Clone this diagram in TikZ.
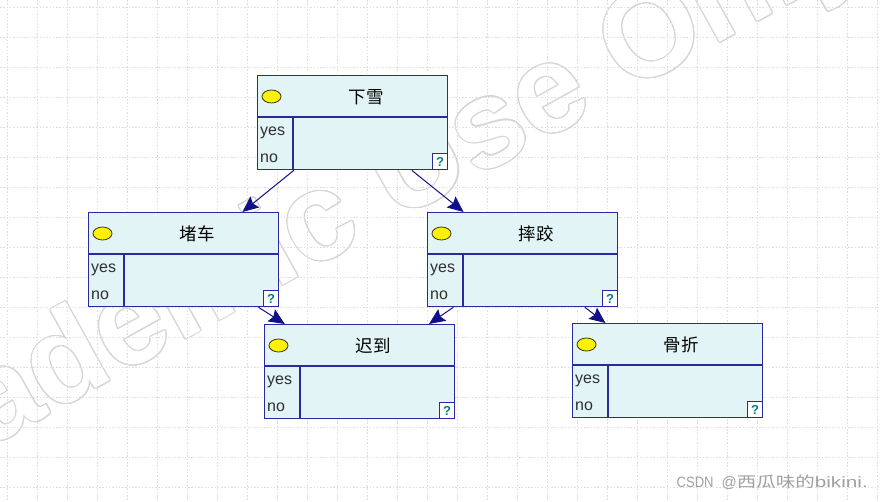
\documentclass[tikz,border=0pt]{standalone}
\usepackage{fontspec}
\setmainfont{Liberation Sans}
\newfontfamily\cjkfont{Noto Sans CJK SC}
\usepackage{contour}
\contourlength{1.1pt}
\usetikzlibrary{arrows.meta,shapes.geometric}
\definecolor{boxfill}{HTML}{E2F4F5}
\definecolor{boxline}{HTML}{2A2A9C}
\definecolor{arrowcol}{HTML}{10108A}
\definecolor{gridcol}{HTML}{DEDEDE}
\definecolor{qcol}{HTML}{008080}
\definecolor{wmgray}{HTML}{D6D6D6}
\definecolor{bulbfill}{HTML}{FFF200}
\definecolor{bulbline}{HTML}{3A3A10}
\definecolor{rowcol}{HTML}{303030}
\definecolor{csdncol}{HTML}{A0A0A0}
\tikzset{
  gridline/.style={draw=gridcol, line width=0.8pt, dash pattern=on 1.5pt off 1.8pt},
  cptbox/.style={draw=boxline, fill=boxfill, line width=1.3pt, minimum width=190pt, minimum height=94pt, inner sep=0pt, anchor=north west},
  divline/.style={draw=boxline, line width=1.3pt},
  qbox/.style={draw=boxline, fill=white, line width=1.3pt, minimum width=15pt, minimum height=16pt, inner sep=0pt, font=\fontsize{13}{13}\selectfont\bfseries, text=qcol, anchor=south east},
  bulb/.style={ellipse, draw=bulbline, fill=bulbfill, line width=0.8pt, minimum width=19pt, minimum height=13pt, inner sep=0pt},
  titletext/.style={font=\fontsize{17.5}{17.5}\selectfont\cjkfont, text=black, inner sep=0pt},
  rowtext/.style={font=\fontsize{16}{16}\selectfont, text=rowcol, inner sep=0pt, anchor=base west},
  conn/.style={draw=arrowcol, line width=1pt, -{Stealth[length=16pt,width=14pt,inset=2.5pt]}},
}
\newcommand{\cptbox}[4]{%
  \node[cptbox] (#1) at (#2,#3) {};
  \draw[divline] ([yshift=-42pt]#1.north west) -- ([yshift=-42pt]#1.north east);
  \draw[divline] ([xshift=36pt,yshift=-42pt]#1.north west) -- ([xshift=36pt]#1.south west);
  \node[qbox] (#1-q) at (#1.south east) {?};
  \node[bulb] (#1-b) at ([xshift=14.5pt,yshift=-21.5pt]#1.north west) {};
  \node[titletext] (#1-t) at ([xshift=109pt,yshift=-22pt]#1.north west) {#4};
  \node[rowtext] (#1-y) at ([xshift=3pt,yshift=-60.5pt]#1.north west) {yes};
  \node[rowtext] (#1-n) at ([xshift=3pt,yshift=-87.5pt]#1.north west) {no};
}
\begin{document}
\begin{tikzpicture}[x=1pt,y=-1pt]
\useasboundingbox (0,0) rectangle (881,501);
\fill[white] (0,0) rectangle (881,501);
% watermark
\node[rotate=29, anchor=base west, inner sep=0pt, font=\fontsize{125}{125}\selectfont\bfseries] (wmk) at (-150,525) {\contour{wmgray}{\textcolor{white}{Academic Use Only}}};
% grid
\foreach \gx in {7,37,...,877} {\draw[gridline] (\gx,0) -- (\gx,501);}
\foreach \gy in {7,37,...,497} {\draw[gridline] (0,\gy) -- (881,\gy);}
% boxes
\cptbox{xx}{257}{75}{下雪}
\cptbox{dc}{88}{212}{堵车}
\cptbox{sj}{427}{212}{摔跤}
\cptbox{cd}{264}{324}{迟到}
\cptbox{gz}{572}{323}{骨折}
% connectors
\draw[conn] (xx) -- (dc);
\draw[conn] (xx) -- (sj);
\draw[conn] (dc) -- (cd);
\draw[conn] (sj) -- (cd);
\draw[conn] (sj) -- (gz);
% csdn mark
\node[anchor=base east, inner sep=0pt, text=csdncol, font=\fontsize{15}{15}\selectfont] (csdn) at (868,487) {\scalebox{0.87}[1]{CSDN}\hspace{8pt}@\scalebox{1.3}[1]{\cjkfont 西瓜味的}\scalebox{1.38}[1]{bikini.}};
\end{tikzpicture}
\end{document}
